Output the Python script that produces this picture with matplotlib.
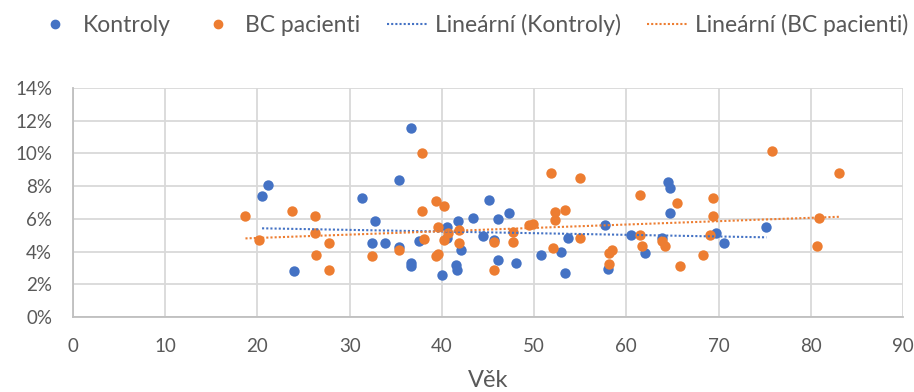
import numpy as np
import matplotlib
matplotlib.use("Agg")
import matplotlib.pyplot as plt
from matplotlib.lines import Line2D
from matplotlib.ticker import PercentFormatter

plt.rcParams['font.family'] = ['Lato', 'DejaVu Sans']

# Kontroly (vek, podil v %)
kontroly_vek = [21.1, 20.5, 24.0, 36.7, 35.4, 31.3, 45.1, 32.7, 43.4, 46.1,
                47.3, 41.8, 40.6, 40.6, 37.5, 32.4, 33.8, 35.4, 42.1, 36.7,
                36.7, 40.0, 41.5, 41.6, 44.5, 45.6, 46.1, 48.0, 50.7, 52.9,
                53.4, 53.7, 64.5, 64.7, 64.7, 57.7, 75.2, 60.5, 63.9, 62.0,
                69.7, 70.6, 58.0]
kontroly_val = [8.05, 7.40, 2.80, 11.57, 8.36, 7.28, 7.14, 5.87, 6.08, 6.02,
                6.38, 5.87, 5.48, 4.85, 4.65, 4.50, 4.55, 4.29, 4.09, 3.29,
                3.12, 2.57, 3.19, 2.88, 4.97, 4.71, 3.48, 3.28, 3.78, 3.95,
                2.72, 4.80, 8.24, 7.91, 6.38, 5.64, 5.48, 5.01, 4.82, 3.89,
                5.16, 4.51, 2.96]

# BC pacienti
bc_vek = [18.7, 23.8, 26.2, 26.2, 20.2, 27.8, 26.4, 27.8, 37.8, 39.4,
          40.2, 37.8, 39.6, 41.9, 40.7, 40.2, 38.1, 41.9, 35.4, 32.4,
          39.6, 39.4, 45.6, 47.7, 47.7, 45.6, 49.4, 49.9, 51.8, 55.0,
          52.3, 52.3, 53.4, 52.1, 55.0, 75.8, 83.1, 61.5, 65.5, 69.4,
          69.4, 80.9, 61.5, 63.9, 64.2, 61.7, 69.1, 68.3, 65.8, 80.7,
          58.4, 58.1, 58.1]
bc_val = [6.18, 6.50, 6.18, 5.15, 4.70, 4.50, 3.78, 2.87, 10.04, 7.12,
          6.80, 6.48, 5.48, 5.30, 5.15, 4.69, 4.79, 4.52, 4.09, 3.74,
          3.86, 3.72, 4.56, 5.20, 4.56, 2.87, 5.60, 5.71, 8.83, 8.47,
          6.39, 5.92, 6.54, 4.20, 4.80, 10.14, 8.83, 7.44, 6.95, 7.30,
          6.18, 6.03, 5.01, 4.66, 4.33, 4.35, 5.01, 3.78, 3.12, 4.36,
          4.10, 3.89, 3.27]

blue = '#4472C4'
orange = '#ED7D31'
gray_text = '#595959'
dots = (0, (1, 1))

fig = plt.figure(figsize=(9.14, 3.92), dpi=100)
ax = fig.add_axes([0.0799, 0.1913, 0.9080, 0.5842])

ax.scatter(kontroly_vek, kontroly_val, s=56, color=blue, zorder=3, linewidths=0)
ax.scatter(bc_vek, bc_val, s=56, color=orange, zorder=3, linewidths=0)

# linearni trendy (Excel-style, pres rozsah dat)
for xs, ys, c in [(kontroly_vek, kontroly_val, blue), (bc_vek, bc_val, orange)]:
    k, q = np.polyfit(xs, ys, 1)
    xx = np.array([min(xs), max(xs)])
    ax.plot(xx, k * xx + q, color=c, lw=1.5, ls=dots, zorder=4)

ax.set_xlim(0, 90)
ax.set_ylim(0, 14)
ax.set_xticks(range(0, 91, 10))
ax.set_yticks(range(0, 15, 2))
ax.yaxis.set_major_formatter(PercentFormatter(decimals=0))
ax.grid(True, color='#d9d9d9', lw=1.3)
ax.set_axisbelow(True)
for s in ['top', 'right']:
    ax.spines[s].set_visible(False)
for s in ['left', 'bottom']:
    ax.spines[s].set_color('#bfbfbf')
    ax.spines[s].set_linewidth(1.3)
ax.tick_params(length=0, labelsize=13.5, colors=gray_text)
ax.tick_params(axis='x', pad=15)
ax.tick_params(axis='y', pad=15)
ax.set_xlabel('Věk', fontsize=17, color=gray_text, labelpad=11)

handles = [
    Line2D([], [], ls='none', marker='o', ms=6, color=blue),
    Line2D([], [], ls='none', marker='o', ms=6, color=orange),
    Line2D([], [], color=blue, lw=1.5, ls=dots),
    Line2D([], [], color=orange, lw=1.5, ls=dots),
]
labels = ['Kontroly', 'BC pacienti', 'Lineární (Kontroly)', 'Lineární (BC pacienti)']
fig.legend(handles, labels, loc='center', bbox_to_anchor=(0.516, 0.936),
           ncol=4, frameon=False, fontsize=16.5, labelcolor=gray_text,
           handlelength=1.8, handletextpad=0.3, columnspacing=1.15)

fig.savefig('out.png', dpi=100)
